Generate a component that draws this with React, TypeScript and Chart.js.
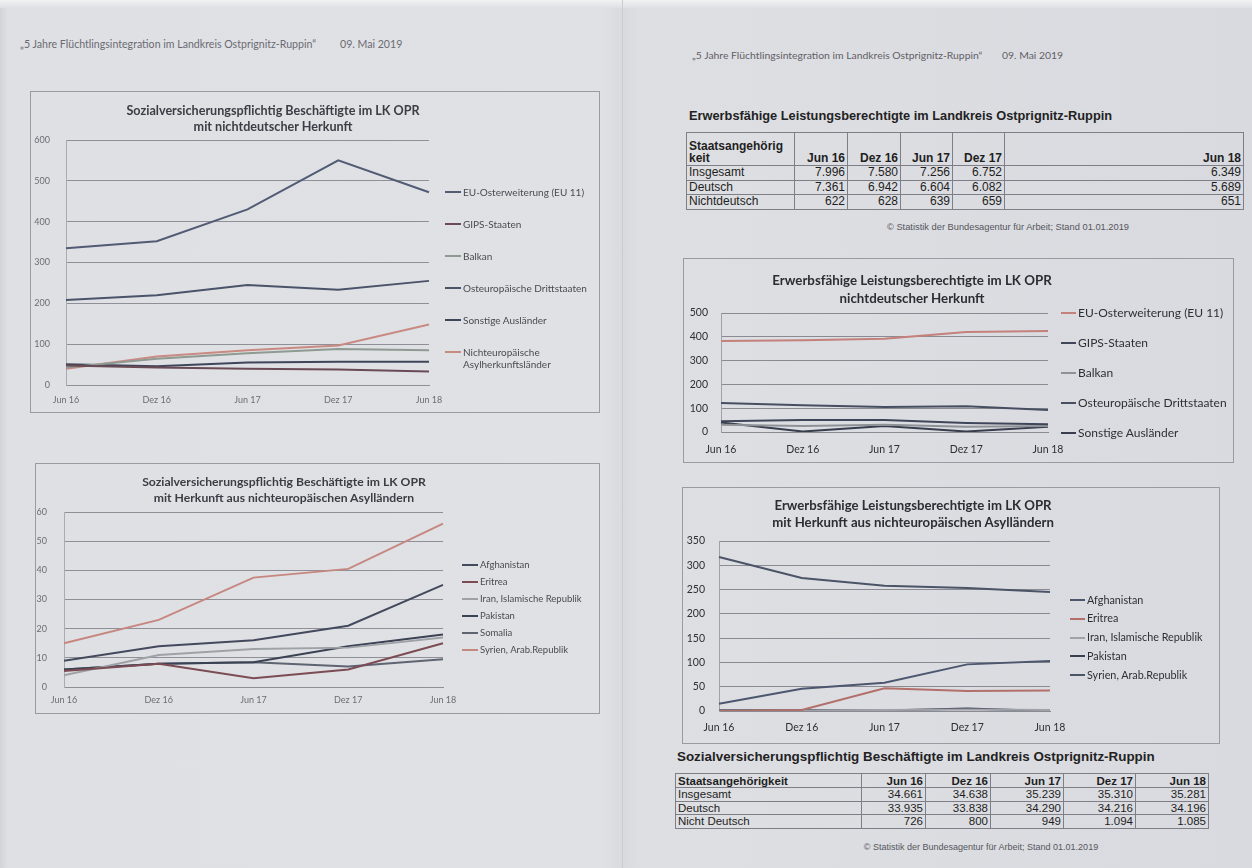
import React, { useEffect, useRef } from "react";
import { Chart, registerables } from "chart.js";
Chart.register(...registerables);

// ---------- DATA ----------
const periods = ["Jun 16", "Dez 16", "Jun 17", "Dez 17", "Jun 18"];

const headerText = "„5 Jahre Flüchtlingsintegration im Landkreis Ostprignitz-Ruppin“";
const headerDate = "09. Mai 2019";
const sourceText = "© Statistik der Bundesagentur für Arbeit; Stand 01.01.2019";

// Chart 1: Sozialversicherungspflichtig Beschäftigte, nichtdeutsche Herkunft
const c1Title = ["Sozialversicherungspflichtig Beschäftigte im LK OPR", "mit nichtdeutscher Herkunft"];
const c1Labels = ["EU-Osterweiterung (EU 11)", "GIPS-Staaten", "Balkan", "Osteuropäische Drittstaaten", "Sonstige Ausländer", "Nichteuropäische Asylherkunftsländer"];
const c1EU = [335, 352, 430, 550, 472];
const c1GIPS = [48, 43, 40, 38, 33];
const c1Balkan = [43, 64, 78, 88, 85];
const c1Ost = [208, 220, 245, 233, 255];
const c1Sonst = [51, 46, 55, 57, 57];
const c1NichtEU = [40, 70, 85, 97, 148];

// Chart 2: Sozialversicherungspflichtig Beschäftigte, nichteuropäische Asylländer
const c2Title = ["Sozialversicherungspflichtig Beschäftigte im LK OPR", "mit Herkunft aus nichteuropäischen Asylländern"];
const c2Labels = ["Afghanistan", "Eritrea", "Iran, Islamische Republik", "Pakistan", "Somalia", "Syrien, Arab.Republik"];
const c2Afg = [9, 14, 16, 21, 35];
const c2Eri = [5.5, 8, 3, 6, 15];
const c2Iran = [4, 11, 13, 13.5, 17];
const c2Pak = [6, 8, 8.5, 14, 18];
const c2Som = [6, 8, 8.5, 7, 9.5];
const c2Syr = [15, 23, 37.5, 40.5, 56];

// Table 1: Erwerbsfähige Leistungsberechtigte
const t1Title = "Erwerbsfähige Leistungsberechtigte im Landkreis Ostprignitz-Ruppin";
const t1Rows = ["Insgesamt", "Deutsch", "Nichtdeutsch"];
const t1Insg = ["7.996", "7.580", "7.256", "6.752", "6.349"];
const t1Deu = ["7.361", "6.942", "6.604", "6.082", "5.689"];
const t1Nicht = ["622", "628", "639", "659", "651"];

// Chart 3: Erwerbsfähige Leistungsberechtigte, nichtdeutsche Herkunft
const c3Title = ["Erwerbsfähige Leistungsberechtigte im LK OPR", "nichtdeutscher Herkunft"];
const c3Labels = ["EU-Osterweiterung (EU 11)", "GIPS-Staaten", "Balkan", "Osteuropäische Drittstaaten", "Sonstige Ausländer"];
const c3EU = [382, 385, 392, 420, 424];
const c3GIPS = [45, 50, 50, 38, 33];
const c3Balkan = [30, 25, 30, 22, 25];
const c3Ost = [122, 112, 105, 108, 92];
const c3Sonst = [40, 2, 25, 2, 22];

// Chart 4: Erwerbsfähige Leistungsberechtigte, nichteuropäische Asylländer
const c4Title = ["Erwerbsfähige Leistungsberechtigte im LK OPR", "mit Herkunft aus nichteuropäischen Asylländern"];
const c4Labels = ["Afghanistan", "Eritrea", "Iran, Islamische Republik", "Pakistan", "Syrien, Arab.Republik"];
const c4Afg = [15, 46, 58, 96, 103];
const c4Eri = [0, 2, 47, 41, 42];
const c4Iran = [1, 1, 2, 3, 2];
const c4Pak = [2, 2, 1, 5, 0];
const c4Syr = [317, 274, 258, 253, 245];

// Table 2: Sozialversicherungspflichtig Beschäftigte
const t2Title = "Sozialversicherungspflichtig Beschäftigte im Landkreis Ostprignitz-Ruppin";
const t2Rows = ["Insgesamt", "Deutsch", "Nicht Deutsch"];
const t2Insg = ["34.661", "34.638", "35.239", "35.310", "35.281"];
const t2Deu = ["33.935", "33.838", "34.290", "34.216", "34.196"];
const t2Nicht = ["726", "800", "949", "1.094", "1.085"];

// ---------- COMPONENTS ----------
type DS = { label: string; data: number[]; color: string; width?: number };
type Cfg = {
  box: [number, number, number, number];
  plot: [number, number, number, number];
  yMax: number;
  yStep: number;
  tickSize: number;
  tickColor: string;
  yPad: number;
  xPad: number;
  gridColor: string;
  axisColor: string;
  title: string[];
  titleX: number;
  titleY: number;
  titleSize: number;
  titleLH: number;
  titleColor: string;
  legendX: number;
  legendY: number;
  legendGap: number;
  legendSize: number;
  legendW: number;
  swatch: number;
  legendColor: string;
  datasets: DS[];
};

const CHART_FONT = "Lato, 'Open Sans', sans-serif";
const TABLE_FONT = "'Liberation Sans', Arial, sans-serif";

function LineChartBox({ cfg }: { cfg: Cfg }) {
  const ref = useRef<HTMLCanvasElement>(null);
  const [bx, by, bw, bh] = cfg.box;
  useEffect(() => {
    const [pl, pt, pr, pb] = cfg.plot;
    const yW = pl - bx;
    const xH = 22;
    const chart = new Chart(ref.current as HTMLCanvasElement, {
      type: "line",
      data: {
        labels: periods,
        datasets: cfg.datasets.map((d) => ({
          label: d.label,
          data: d.data,
          borderColor: d.color,
          backgroundColor: d.color,
          borderWidth: d.width ?? 2,
          pointRadius: 0,
          tension: 0,
          fill: false,
        })),
      },
      options: {
        responsive: false,
        animation: false,
        layout: { padding: { left: 0, top: pt - by, right: bx + bw - pr, bottom: by + bh - pb - xH } },
        plugins: { legend: { display: false }, title: { display: false }, tooltip: { enabled: false } },
        scales: {
          x: {
            offset: false,
            grid: { display: false, drawTicks: false },
            border: { display: true, color: cfg.gridColor, width: 1 },
            ticks: { font: { family: CHART_FONT, size: cfg.tickSize }, color: cfg.tickColor, padding: cfg.xPad, maxRotation: 0, autoSkip: false },
            afterFit: (s: any) => { s.height = xH; },
          },
          y: {
            min: 0,
            max: cfg.yMax,
            ticks: { stepSize: cfg.yStep, font: { family: CHART_FONT, size: cfg.tickSize }, color: cfg.tickColor, padding: cfg.yPad },
            grid: { color: cfg.gridColor, drawTicks: false, lineWidth: 1 },
            border: { display: true, color: cfg.axisColor, width: 1 },
            afterFit: (s: any) => { s.width = yW; },
          },
        },
      },
    });
    return () => chart.destroy();
  }, []);
  return (
    <>
      <div style={{ position: "absolute", left: bx, top: by, width: bw, height: bh, border: "1px solid #9a9ba2", boxSizing: "border-box" }} />
      <canvas ref={ref} width={bw} height={bh} style={{ position: "absolute", left: bx, top: by, width: bw, height: bh, display: "block" }} />
      {cfg.title.map((t, i) => (
        <div key={i} style={{ position: "absolute", left: cfg.titleX - 300, width: 600, top: cfg.titleY + i * cfg.titleLH, transform: "translateY(-50%)", textAlign: "center", fontFamily: CHART_FONT, fontWeight: 700, fontSize: cfg.titleSize, color: cfg.titleColor, whiteSpace: "nowrap", lineHeight: 1 }}>{t}</div>
      ))}
      <div style={{ position: "absolute", left: cfg.legendX, top: cfg.legendY - cfg.legendSize * 0.6, width: cfg.legendW }}>
        {cfg.datasets.map((d, i) => (
          <div key={i} style={{ display: "flex", alignItems: "flex-start", height: cfg.legendGap, fontFamily: CHART_FONT, fontSize: cfg.legendSize, color: cfg.legendColor, lineHeight: 1.2 }}>
            <div style={{ width: cfg.swatch, height: 2, background: d.color, marginTop: cfg.legendSize * 0.6 - 1, marginRight: 2, flex: "none" }} />
            <div>{d.label}</div>
          </div>
        ))}
      </div>
    </>
  );
}

function T({ x, y, children, style }: { x: number; y: number; children: React.ReactNode; style?: React.CSSProperties }) {
  return <div style={{ position: "absolute", left: x, top: y, transform: "translateY(-50%)", whiteSpace: "nowrap", lineHeight: 1, ...style }}>{children}</div>;
}

function DataTable({ x, y, widths, headH, rowH, fontSize, head, rows, values }: {
  x: number; y: number; widths: number[]; headH: number; rowH: number; fontSize: number;
  head: React.ReactNode; rows: string[]; values: string[][];
}) {
  const cell: React.CSSProperties = { border: "1px solid #7e7f86", padding: "0 2px", fontSize, fontFamily: TABLE_FONT, color: "#1e1e22", lineHeight: 1.05 };
  return (
    <table style={{ position: "absolute", left: x, top: y, borderCollapse: "collapse", tableLayout: "fixed", width: widths.reduce((a, b) => a + b, 0) }}>
      <colgroup>{widths.map((w, i) => <col key={i} style={{ width: w }} />)}</colgroup>
      <tbody>
        <tr style={{ height: headH }}>
          <td style={{ ...cell, fontWeight: 700, verticalAlign: "bottom" }}>{head}</td>
          {periods.map((p) => (
            <td key={p} style={{ ...cell, fontWeight: 700, textAlign: "right", verticalAlign: "bottom" }}>{p}</td>
          ))}
        </tr>
        {rows.map((r, i) => (
          <tr key={r} style={{ height: rowH }}>
            <td style={cell}>{r}</td>
            {values[i].map((v, j) => (
              <td key={j} style={{ ...cell, textAlign: "right" }}>{v}</td>
            ))}
          </tr>
        ))}
      </tbody>
    </table>
  );
}

const leftCol = { tickColor: "#6c6d75", gridColor: "#8f9097", axisColor: "#a9aab2", titleColor: "#3c3d44", legendColor: "#4a4b52" };
const rightCol = { tickColor: "#2e2f35", gridColor: "#8a8b92", axisColor: "#a0a1a8", titleColor: "#2c2d33", legendColor: "#2e2f35" };

const chart1: Cfg = {
  box: [30, 91, 570, 322], plot: [66, 140, 429, 385], yMax: 600, yStep: 100,
  tickSize: 9, yPad: 16, xPad: 10, ...leftCol,
  title: c1Title, titleX: 273, titleY: 111, titleSize: 12.6, titleLH: 16,
  legendX: 445, legendY: 192, legendGap: 32, legendSize: 10, legendW: 150, swatch: 16,
  datasets: [
    { label: c1Labels[0], data: c1EU, color: "#525b74" },
    { label: c1Labels[1], data: c1GIPS, color: "#6a4a55" },
    { label: c1Labels[2], data: c1Balkan, color: "#8f9a92" },
    { label: c1Labels[3], data: c1Ost, color: "#4a5369" },
    { label: c1Labels[4], data: c1Sonst, color: "#3e4659" },
    { label: c1Labels[5], data: c1NichtEU, color: "#c98a82" },
  ],
};

const chart2: Cfg = {
  box: [35, 463, 565, 251], plot: [64, 512, 443, 687], yMax: 60, yStep: 10,
  tickSize: 9, yPad: 17, xPad: 8, ...leftCol,
  title: c2Title, titleX: 284, titleY: 482, titleSize: 12.2, titleLH: 16,
  legendX: 462, legendY: 565, legendGap: 17, legendSize: 9.5, legendW: 135, swatch: 16,
  datasets: [
    { label: c2Labels[0], data: c2Afg, color: "#434a5d" },
    { label: c2Labels[1], data: c2Eri, color: "#7c4c54" },
    { label: c2Labels[2], data: c2Iran, color: "#9ea2a7" },
    { label: c2Labels[3], data: c2Pak, color: "#3b4254" },
    { label: c2Labels[4], data: c2Som, color: "#5e6472" },
    { label: c2Labels[5], data: c2Syr, color: "#c68780" },
  ],
};

const chart3: Cfg = {
  box: [683, 258, 551, 205], plot: [721, 313, 1048, 432], yMax: 500, yStep: 100,
  tickSize: 10.5, yPad: 13, xPad: 11, ...rightCol,
  title: c3Title, titleX: 912, titleY: 281, titleSize: 13.3, titleLH: 18,
  legendX: 1061, legendY: 313, legendGap: 30, legendSize: 12, legendW: 175, swatch: 15,
  datasets: [
    { label: c3Labels[0], data: c3EU, color: "#c4807a" },
    { label: c3Labels[1], data: c3GIPS, color: "#3f4659" },
    { label: c3Labels[2], data: c3Balkan, color: "#8e9297" },
    { label: c3Labels[3], data: c3Ost, color: "#474e61" },
    { label: c3Labels[4], data: c3Sonst, color: "#383e4e" },
  ],
};

const chart4: Cfg = {
  box: [682, 487, 538, 257], plot: [719, 541, 1050, 711], yMax: 350, yStep: 50,
  tickSize: 10.5, yPad: 14, xPad: 10, ...rightCol,
  title: c4Title, titleX: 913, titleY: 506, titleSize: 13.2, titleLH: 17,
  legendX: 1070, legendY: 600, legendGap: 18.8, legendSize: 10.8, legendW: 148, swatch: 15,
  datasets: [
    { label: c4Labels[0], data: c4Afg, color: "#4d566f" },
    { label: c4Labels[1], data: c4Eri, color: "#b3706a" },
    { label: c4Labels[2], data: c4Iran, color: "#9fa3a8" },
    { label: c4Labels[3], data: c4Pak, color: "#3a4052" },
    { label: c4Labels[4], data: c4Syr, color: "#4b5367" },
  ],
};

export default function App() {
  const hdrL: React.CSSProperties = { fontFamily: CHART_FONT, fontSize: 10.6, color: "#6a6b72" };
  const hdrR: React.CSSProperties = { fontFamily: CHART_FONT, fontSize: 10.4, color: "#5f6067" };
  return (
    <div style={{ position: "fixed", left: 0, top: 0, width: 1252, height: 868, overflow: "hidden", background: "linear-gradient(90deg, #d3d4d9 0px, #dfe0e4 8px, #e0e1e5 600px, #d9dade 624px, #dedfe3 640px, #d9dadf 1252px)" }}>
      <div style={{ position: "absolute", left: 0, top: 0, width: 1252, height: 8, background: "linear-gradient(180deg, #f2f2f4, #dfe0e4)" }} />
      <div style={{ position: "absolute", left: 622, top: 0, width: 1, height: 868, background: "#cbccd1" }} />

      <T x={20} y={44} style={hdrL}>{headerText}</T>
      <T x={340} y={44} style={hdrL}>{headerDate}</T>
      <T x={692} y={55} style={hdrR}>{headerText}</T>
      <T x={1002} y={55} style={hdrR}>{headerDate}</T>

      <LineChartBox cfg={chart1} />
      <LineChartBox cfg={chart2} />

      <T x={689} y={116} style={{ fontFamily: TABLE_FONT, fontWeight: 700, fontSize: 12.8, color: "#222" }}>{t1Title}</T>
      <DataTable x={686} y={132} widths={[108, 53, 53, 52, 52, 239]} headH={33} rowH={14.5} fontSize={12}
        head={<div style={{ textAlign: "left" }}>Staatsangehörig<br />keit</div>} rows={t1Rows} values={[t1Insg, t1Deu, t1Nicht]} />
      <div style={{ position: "absolute", left: 808, width: 400, top: 227, transform: "translateY(-50%)", textAlign: "center", fontFamily: TABLE_FONT, fontSize: 9.3, color: "#55565c" }}>{sourceText}</div>

      <LineChartBox cfg={chart3} />
      <LineChartBox cfg={chart4} />

      <T x={677} y={757} style={{ fontFamily: TABLE_FONT, fontWeight: 700, fontSize: 13.4, color: "#222" }}>{t2Title}</T>
      <DataTable x={675} y={773} widths={[186, 64, 65, 73, 72, 73]} headH={14} rowH={13.5} fontSize={11.5}
        head={<span>Staatsangehörigkeit</span>} rows={t2Rows} values={[t2Insg, t2Deu, t2Nicht]} />
      <div style={{ position: "absolute", left: 781, width: 400, top: 847, transform: "translateY(-50%)", textAlign: "center", fontFamily: TABLE_FONT, fontSize: 9, color: "#55565c" }}>{sourceText}</div>
    </div>
  );
}
